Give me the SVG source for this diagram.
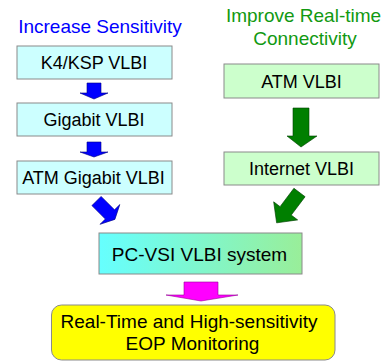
<svg xmlns="http://www.w3.org/2000/svg" width="390" height="362" viewBox="0 0 390 362">
<defs>
<linearGradient id="pcg" x1="0" y1="0" x2="1" y2="0">
<stop offset="0" stop-color="#66ffff"/>
<stop offset="1" stop-color="#99ee99"/>
</linearGradient>
<style>
text{font-family:"Liberation Sans",Arial,sans-serif;text-anchor:middle;fill:#000}
.box{stroke:#8a8a8a;stroke-width:1}
.cy{fill:#ccffff}
.gr{fill:#ccffcc}
.t18{font-size:18px}
.t19{font-size:19px}
.ab{fill:#0000ff;stroke:#000080;stroke-width:0.6}
.ag{fill:#007f00;stroke:#004000;stroke-width:0.6}
.am{fill:#ff00ff;stroke:#990099;stroke-width:0.6}
</style>
</defs>
<rect width="390" height="362" fill="#ffffff"/>
<text class="t19" x="100" y="33" style="fill:#0000ff">Increase Sensitivity</text>
<text class="t19" x="303.5" y="22" style="fill:#119911">Improve Real-time</text>
<text class="t19" x="305" y="45" style="fill:#119911">Connectivity</text>
<g id="connectors">
<polygon class="ab" points="87,83 101,83 101,93 108,93 94,99 80,93 87,93"/>
<polygon class="ab" points="87,142 101,142 101,152 108,152 94,157 80,152 87,152"/>
<polygon class="ab" transform="translate(96.5,201) rotate(-45)" points="-6.5,0 6.5,0 6.5,19 14,19 0,26 -14,19 -6.5,19"/>
<polygon class="ag" points="293,108 309,108 309,136 317,136 301,147 287,136 293,136"/>
<polygon class="ag" transform="translate(299.5,192.5) rotate(37)" points="-7,0 7,0 7,23 15,23 0,38 -15,23 -7,23"/>
<polygon class="am" points="184,282 218,282 218,295 238,295 201,301 166,295 184,295"/>
</g>
<g id="n-k4">
<rect class="box cy" x="17" y="46" width="155" height="33"/>
<text class="t18" x="94" y="68.5">K4/KSP VLBI</text>
</g>
<g id="n-gigabit">
<rect class="box cy" x="17" y="103" width="155" height="33"/>
<text class="t18" x="94" y="126">Gigabit VLBI</text>
</g>
<g id="n-atmgigabit">
<rect class="box cy" x="17" y="161" width="155" height="33"/>
<text class="t18" x="93.5" y="184">ATM Gigabit VLBI</text>
</g>
<g id="n-atm">
<rect class="box gr" x="224" y="64" width="155" height="34"/>
<text class="t18" x="301.5" y="87.5">ATM VLBI</text>
</g>
<g id="n-internet">
<rect class="box gr" x="224" y="152" width="155" height="33"/>
<text class="t18" x="301.5" y="175">Internet VLBI</text>
</g>
<g id="n-pcvsi">
<rect class="box" x="99" y="233" width="203" height="41" fill="url(#pcg)"/>
<text class="t19" x="199.5" y="260.5">PC-VSI VLBI system</text>
</g>
<g id="n-eop">
<rect class="box" x="51.5" y="305" width="283.5" height="55" rx="10" ry="10" fill="#ffff00"/>
<text class="t19" x="189" y="328">Real-Time and High-sensitivity</text>
<text class="t19" x="192.5" y="350">EOP Monitoring</text>
</g>
</svg>
